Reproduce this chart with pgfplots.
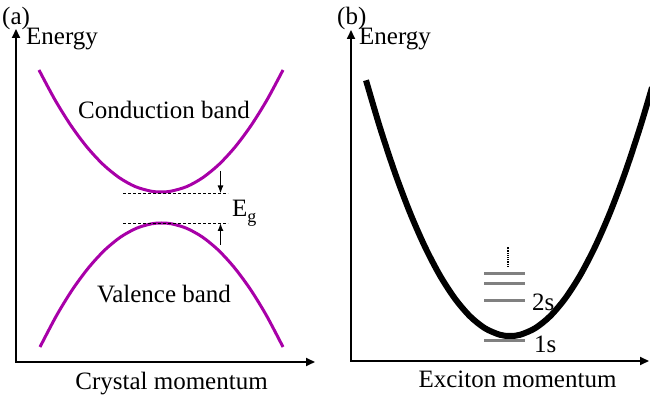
\documentclass[border=0pt]{standalone}
\usepackage{fontspec}
\setmainfont{Liberation Serif}
\usepackage{pgfplots}
\pgfplotsset{compat=1.18}
\usetikzlibrary{arrows.meta}
\definecolor{band}{RGB}{168,0,168}
\definecolor{lvl}{RGB}{128,128,128}
\newcommand\bigf{\fontsize{25}{29}\selectfont}
\pgfplotsset{
  panel/.style={
    x=1pt, y=1pt, anchor=south west, clip=false,
    axis lines=none, xtick=\empty, ytick=\empty,
  }
}
\tikzset{axarr/.style={line width=1.7pt, -{Triangle[length=9pt,width=8pt]}},
         egarr/.style={line width=1.5pt, -{Latex[length=8pt,width=6pt]}}}
\begin{document}
\begin{tikzpicture}
\useasboundingbox (0,0) rectangle (650pt,401pt);
% ---------------- panel (a)
\begin{axis}[panel, at={(16pt,39pt)}, xmin=16, xmax=313, ymin=39, ymax=370]
\addplot[band, line width=3pt, smooth] coordinates {
 (39,331.0) (55,301.1) (71,275.4) (87,253.9) (103,236.6) (119,223.5) (135,214.5) (151,209.8) (161,209)
 (171,209.8) (187,214.5) (203,223.5) (219,236.6) (235,253.9) (251,275.4) (267,301.1) (283,331.0)};
\addplot[band, line width=3pt, smooth] coordinates {
 (40,54.0) (56.5,85.4) (72.5,111.5) (88.5,133.2) (104.5,150.7) (120.5,163.9) (136.5,172.75) (151.5,177.2) (161.5,178)
 (171.5,177.2) (186.5,172.75) (202.5,163.9) (218.5,150.7) (234.5,133.2) (250.5,111.5) (266.5,85.4) (283,54.0)};
\addplot[black, line width=0.9pt, dash pattern=on 3pt off 2pt] coordinates {(123,207.5) (228,207.5)};
\addplot[black, line width=0.9pt, dash pattern=on 3pt off 2pt] coordinates {(123,178) (228,178)};
\node[anchor=base west, inner sep=0, font=\bigf] at (axis cs:232,184) {E\raisebox{-6pt}{\fontsize{18}{18}\selectfont g}};
\node[anchor=base, inner sep=0, font=\bigf] at (axis cs:164,282) {Conduction band};
\node[anchor=base, inner sep=0, font=\bigf] at (axis cs:164,98) {Valence band};
\node[anchor=base west, inner sep=0, font=\bigf] at (axis cs:2,376) {(a)};
\node[anchor=base west, inner sep=0, font=\bigf] at (axis cs:26,356) {Energy};
\node[anchor=base, inner sep=0, font=\bigf] at (axis cs:171.5,11) {Crystal momentum};
\end{axis}
% ---------------- panel (b)
\begin{axis}[panel, at={(351pt,40pt)}, xmin=351, xmax=647, ymin=40, ymax=369]
\addplot[black, line width=6pt, smooth] coordinates {
 (366,320.7) (380,273.4) (395,228.1) (410,188.3) (425,154.1) (440,125.4) (455,102.3) (470,84.7) (485,72.7) (500,66.2) (510,65)
 (520,66.2) (535,72.7) (550,84.7) (565,102.3) (580,125.4) (595,154.1) (610,188.3) (625,228.1) (640,273.4) (652,313.6)};
\addplot[lvl, line width=3pt] coordinates {(484,60) (525,60)};
\addplot[lvl, line width=3pt] coordinates {(484,100) (525,100)};
\addplot[lvl, line width=3pt] coordinates {(484,117) (525,117)};
\addplot[lvl, line width=3pt] coordinates {(484,127) (525,127)};
\addplot[black, line width=1.1pt, dash pattern=on 1.1pt off 1.1pt] coordinates {(508,134) (508,154)};
\node[anchor=base west, inner sep=0, font=\bigf] at (axis cs:532,90) {2s};
\node[anchor=base west, inner sep=0, font=\bigf] at (axis cs:534,48) {1s};
\node[anchor=base west, inner sep=0, font=\bigf] at (axis cs:337,376) {(b)};
\node[anchor=base west, inner sep=0, font=\bigf] at (axis cs:359,356) {Energy};
\node[anchor=base, inner sep=0, font=\bigf] at (axis cs:517.5,13) {Exciton momentum};
\end{axis}
% axes with arrow tips and the E_g arrows (same 1pt = 1 unit frame as the axes)
\draw[axarr] (16pt,38.15pt) -- (16pt,372pt);
\draw[axarr] (15.15pt,39pt) -- (315pt,39pt);
\draw[axarr] (351pt,39.15pt) -- (351pt,371pt);
\draw[axarr] (350.15pt,40pt) -- (649pt,40pt);
\draw[egarr] (220.5pt,230pt) -- (220.5pt,207.5pt);
\draw[egarr] (220.5pt,156pt) -- (220.5pt,178pt);
\end{tikzpicture}
\end{document}
